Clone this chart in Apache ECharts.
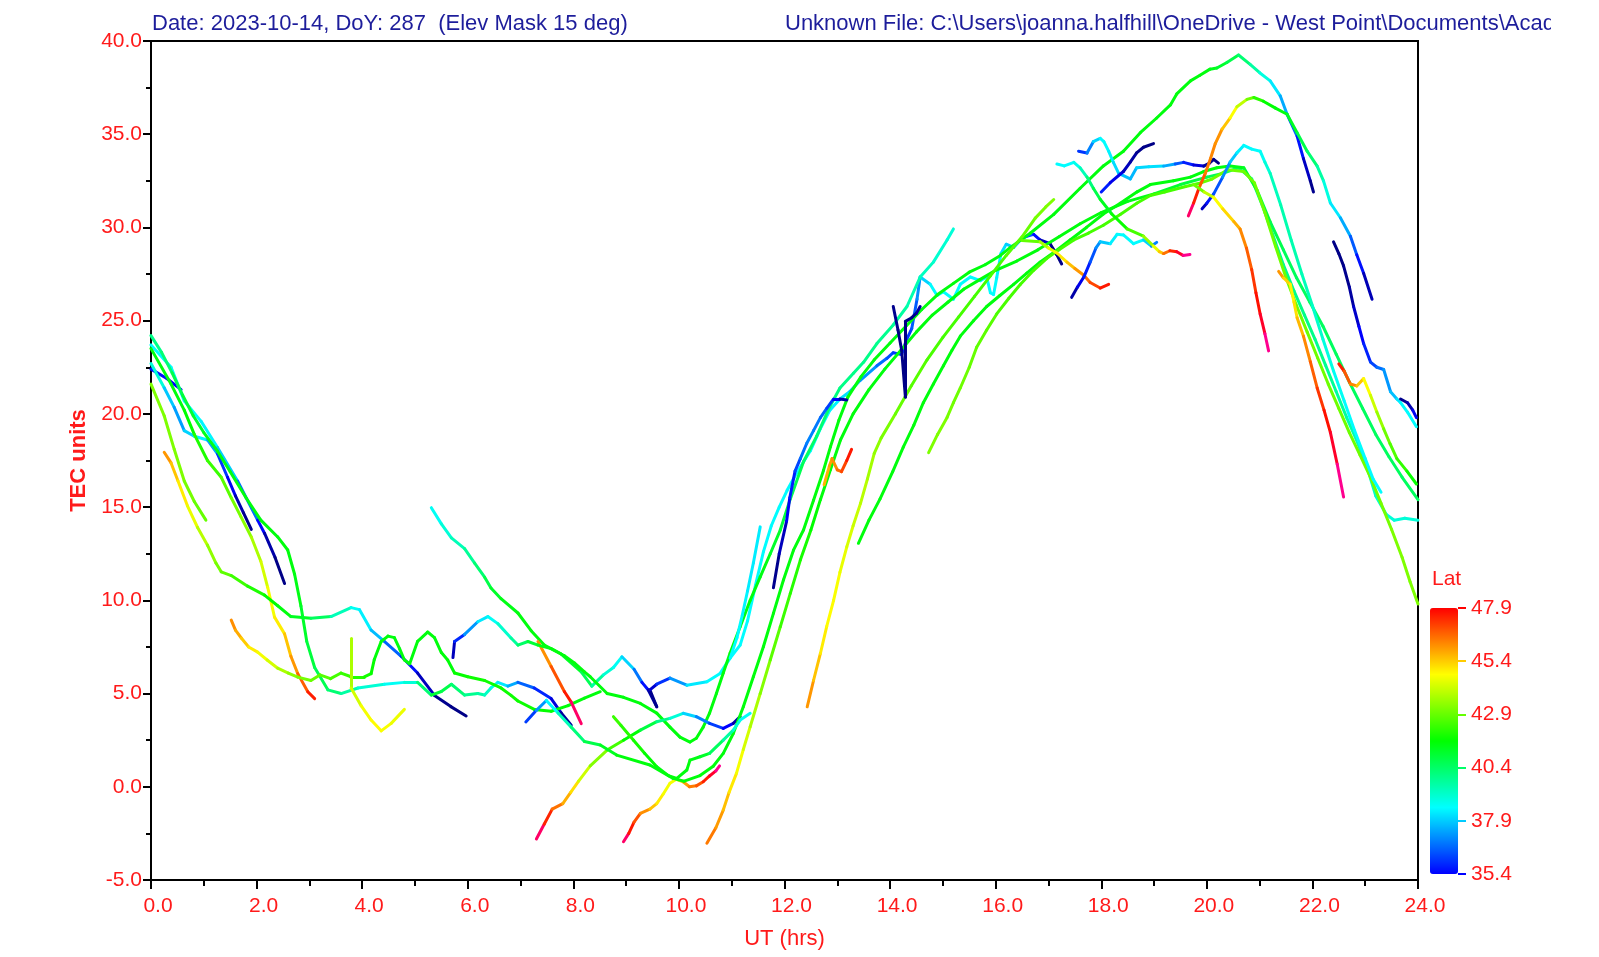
<!DOCTYPE html>
<html>
<head>
<meta charset="utf-8">
<script src="https://cdn.jsdelivr.net/npm/echarts@6/dist/echarts.min.js"></script>
<style>
    html, body { margin: 0; padding: 0; background: #fff; }
    #main { width: 1599px; height: 957px; }
</style>
</head>
<body>
<div id="main"></div>
<script>
// each pass: [UT hrs, TEC units, latitude of pierce point]
var p01 = [[0,22.4,35.6],[0.3,21.9,35.6],[0.57,21.3,35.2]];
var p02 = [[0,23.7,38.5],[0.38,22.5,38.5],[0.63,20.7,38.5],[0.95,19.6,38.5],[1.26,18.2,38.3],[1.64,16.4,37.5],[2.02,14.3,36.0],[2.15,13.6,35.0],[2.35,12.3,34.5],[2.53,10.9,34.5]];
var p03 = [[0,22.7,39.5],[0.25,21.4,38.5],[0.44,20.35,37.2],[0.63,19.1,37.5],[0.82,18.8,38.5],[1.07,18.6,38.3],[1.26,17.85,36.5],[1.45,16.6,35.6],[1.6,15.6,35.0],[1.75,14.7,34.6],[1.9,13.8,34.5]];
var p04 = [[0,23.5,41.5],[0.38,21.6,41.5],[0.63,20.2,41.5],[0.82,18.9,41.8],[1.07,17.5,42.2],[1.33,16.6,42.5],[1.52,15.5,43.0],[1.7,14.5,43.2],[1.9,13.4,43.5],[2.08,12.1,44.0],[2.21,10.7,44.5],[2.34,9.1,44.8],[2.53,8.2,45.2],[2.65,7.0,45.8],[2.78,6.07,46.3],[2.97,5.1,47.2],[3.1,4.73,47.9]];
var p05 = [[0,21.6,43.2],[0.25,19.9,43.2],[0.44,18.1,43.2],[0.63,16.4,43.2],[0.82,15.3,43.0],[1.04,14.3,42.8]];
var p06 = [[0.25,17.94,46.3],[0.38,17.37,45.8],[0.51,16.41,45.2],[0.69,15.07,44.8],[0.88,13.92,44.2],[1.07,12.96,43.6],[1.23,12.0,43.2],[1.33,11.53,43.0],[1.52,11.33,42.6],[1.83,10.76,42.2],[2.15,10.28,41.8],[2.4,9.71,41.5],[2.65,9.13,41.5],[3.03,9.04,41.0],[3.41,9.13,40.0],[3.79,9.61,38.8],[3.95,9.5,38.5],[4.17,8.4,38.2],[4.42,7.8,37.2],[4.74,7.0,36.0],[5.05,6.1,35.2],[5.37,4.9,34.6],[5.68,4.3,34.5],[5.97,3.8,34.5]];
var p07 = [[0,24.2,40.0],[0.2,23.3,40.0],[0.4,22.2,40.5],[0.6,21.0,41.0],[0.8,19.9,41.0],[1.0,19.0,41.2],[1.26,18.0,41.5],[1.5,16.9,41.5],[1.8,15.5,41.5],[2.08,14.3,41.5],[2.4,13.4,41.5],[2.59,12.7,41.5],[2.72,11.4,41.5],[2.84,9.7,41.3],[2.95,7.8,41.0],[3.1,6.4,40.8],[3.35,5.2,40.5],[3.6,5.0,40.0],[3.92,5.3,39.3],[4.42,5.5,38.8],[4.8,5.6,38.5],[5.05,5.6,39.5],[5.31,4.92,41.0],[5.5,5.11,41.0],[5.69,5.5,40.5],[5.94,4.92,40.0],[6.19,5.0,39.8],[6.32,4.92,39.5],[6.44,5.3,39.0],[6.57,5.6,38.5],[6.76,5.4,38.0],[6.95,5.6,37.0],[7.26,5.3,36.2],[7.58,4.73,35.5],[7.77,3.96,34.8],[7.96,3.3,34.5]];
var p08 = [[1.52,8.94,46.3],[1.6,8.4,46.0],[1.71,7.98,45.6],[1.85,7.5,45.2],[2.02,7.22,44.8],[2.2,6.8,44.5],[2.4,6.36,44.0],[2.6,6.1,43.5],[2.78,5.88,43.2],[3.03,5.7,43.0],[3.2,6.0,42.8],[3.4,5.8,42.6],[3.6,6.1,42.4],[3.79,5.9,42.2],[4.04,5.9,42.0],[4.17,6.07,41.8],[4.23,6.83,41.6],[4.36,7.79,41.5],[4.49,8.08,41.5],[4.61,8.0,41.5],[4.71,7.4,41.5],[4.8,6.8,41.5],[4.9,6.6,41.5],[5.05,7.8,41.5],[5.24,8.3,41.5],[5.37,8.0,41.5],[5.5,7.2,41.5],[5.62,6.8,41.5],[5.75,6.1,41.6],[6.0,5.9,41.8],[6.32,5.7,41.8],[6.63,5.3,41.8],[6.82,4.9,41.8],[6.95,4.6,41.8],[7.26,4.15,41.8],[7.58,4.05,41.6],[7.9,4.35,41.5],[8.21,4.75,41.5],[8.51,5.1,41.5]];
var p09 = [[3.79,7.95,43.5],[3.79,5.3,44.0],[3.98,4.35,44.5],[4.17,3.58,44.8],[4.36,3.0,44.8],[4.55,3.4,44.6],[4.8,4.15,44.5]];
var p10 = [[5.31,14.97,38.5],[5.5,14.1,38.8],[5.69,13.35,39.2],[5.94,12.77,39.6],[6.13,12.0,40.0],[6.32,11.24,40.5],[6.44,10.66,41.0],[6.63,10.09,41.3],[6.95,9.32,41.5],[7.2,8.37,41.5],[7.45,7.6,41.5],[7.77,7.12,41.3],[8.15,6.16,41.0],[8.35,5.4,40.2],[8.57,6.0,39.3],[8.76,6.4,38.8],[8.92,6.97,38.5],[9.15,6.3,37.5],[9.3,5.6,36.2],[9.42,5.19,35.0],[9.58,4.29,34.5],[9.45,5.2,34.6],[9.58,5.5,35.5],[9.83,5.83,36.5],[10.15,5.45,38.0],[10.53,5.63,38.5],[10.78,6.08,38.5],[10.97,6.9,38.5],[11.16,7.6,38.5],[11.3,8.9,38.5],[11.45,10.8,38.5],[11.6,12.6,38.5],[11.75,14.0,38.5],[11.9,15.0,38.5],[12.05,15.9,38.5],[12.23,16.83,38.5],[12.49,18.02,38.5],[12.68,19.21,38.5],[12.86,20.2,38.5],[13.05,20.8,38.3],[13.24,21.2,38.0],[13.43,21.79,37.5],[13.75,22.58,37.0],[13.94,22.98,36.5],[14.06,23.28,36.2],[14.22,23.18,36.0],[14.3,23.9,36.0],[14.41,24.57,36.2],[14.51,26.15,36.8],[14.57,27.34,37.5],[14.76,26.95,38.5],[14.89,26.35,38.5],[15.01,26.55,38.5],[15.2,26.15,38.5],[15.33,26.95,38.5],[15.52,27.34,38.5],[15.71,27.15,38.5],[15.83,27.34,38.5],[15.9,26.5,38.5],[15.96,26.4,38.5],[16.02,27.3,38.5],[16.1,28.6,38.3],[16.2,29.1,38.0],[16.34,28.93,37.8],[16.47,29.33,37.5],[16.59,29.53,37.0],[16.72,29.63,36.0],[16.84,29.33,35.2],[17.03,29.13,34.6],[17.16,28.53,34.5],[17.25,28.04,34.5]];
var p11 = [[7.33,7.79,45.8],[7.58,6.45,46.5],[7.83,5.11,47.3],[7.96,4.54,47.9],[8.15,3.39,48.9]];
var p12 = [[5.72,6.93,34.5],[5.75,7.79,35.3],[5.94,8.17,36.5],[6.19,8.85,38.0],[6.38,9.13,38.5],[6.57,8.75,38.8],[6.82,7.98,39.5],[6.95,7.6,40.0],[7.14,7.79,40.8],[7.33,7.6,41.2],[7.58,7.41,41.5],[7.83,7.03,41.5],[8.02,6.64,41.5],[8.21,6.16,41.5],[8.32,5.9,41.5],[8.64,5.0,41.5],[8.95,4.8,41.5],[9.27,4.47,41.5],[9.58,3.95,41.5],[9.83,3.2,41.5],[10.02,2.66,41.5],[10.21,2.4,41.5],[10.33,2.6,41.5],[10.46,3.2,41.5],[10.58,3.95,41.5],[10.71,5.0,41.5],[10.84,6.1,41.5],[10.97,7.17,41.5],[11.16,8.58,41.5],[11.35,10.0,41.5],[11.54,11.26,41.5],[11.73,12.5,41.3],[11.92,13.77,41.0],[12.11,15.44,40.8],[12.36,17.43,40.5],[12.61,18.81,40.3],[12.86,20.4,40.2],[13.05,21.39,40.0],[13.31,22.19,40.0],[13.5,22.78,40.0],[13.75,23.77,40.0],[14.06,24.77,39.8],[14.32,25.76,39.6],[14.57,27.34,39.4],[14.82,28.14,39.2],[15.08,29.33,39.0],[15.2,29.92,39.0]];
var p13 = [[7.3,-2.8,48.9],[7.45,-2.0,47.9],[7.6,-1.2,47.0],[7.8,-0.9,46.0],[7.95,-0.3,45.5],[8.1,0.3,44.8],[8.32,1.12,43.5],[8.64,1.97,43.0],[8.95,2.5,42.0],[9.27,3.04,41.2],[9.58,3.49,40.5],[9.83,3.67,39.5],[10.08,3.94,38.5],[10.33,3.76,37.5],[10.58,3.4,36.5],[10.84,3.13,35.8],[11.03,3.4,35.0],[11.16,3.76,34.5]];
var p14 = [[8.95,-2.95,48.9],[9.05,-2.5,47.9],[9.15,-1.9,47.3],[9.27,-1.43,46.5],[9.45,-1.2,45.8],[9.58,-0.9,45.2],[9.7,-0.4,44.8],[9.83,0.19,44.5],[9.95,0.4,44.8],[10.08,0.27,45.6],[10.2,0.0,46.3],[10.33,0.05,46.5],[10.46,0.27,47.2],[10.58,0.58,47.9],[10.7,0.85,48.3],[10.77,1.12,48.9]];
var p15 = [[7.1,3.48,35.8],[7.3,4.1,36.5],[7.49,4.63,38.0],[7.71,3.96,39.0],[7.96,3.2,39.8],[8.21,2.43,40.5],[8.51,2.24,41.0],[8.82,1.7,41.5],[9.45,1.17,41.5],[9.89,0.45,41.5],[10.1,0.3,41.5],[10.4,0.6,41.5],[10.65,1.1,41.5],[10.84,1.79,41.5],[11.03,2.86,41.5],[11.22,4.29,41.5],[11.41,5.9,41.5],[11.6,7.51,41.5],[11.79,9.3,41.5],[11.98,11.09,41.5],[12.17,12.69,41.5],[12.36,13.77,41.5],[12.55,15.37,41.5],[12.74,16.98,41.5],[12.87,18.23,41.5],[13.03,19.66,41.5],[13.2,20.9,41.5],[13.45,22.0,41.5],[13.7,22.9,41.5],[14.0,23.8,41.5],[14.3,24.7,41.5],[14.6,25.6,41.5],[14.9,26.4,41.5],[15.2,27.0,41.5],[15.5,27.6,41.5],[15.8,28.0,41.5],[16.09,28.5,41.5],[16.28,28.93,41.5],[16.66,29.7,41.5],[17.1,30.7,41.5],[17.6,32.1,41.5],[18.04,33.3,41.5],[18.42,34.09,41.5],[18.74,35.08,41.5],[19.05,35.87,41.5],[19.31,36.57,41.5],[19.43,37.16,41.5],[19.69,37.86,41.5],[19.87,38.16,41.5],[20.06,38.49,41.5],[20.19,38.55,41.2],[20.38,38.85,41.0],[20.6,39.25,40.5],[20.82,38.75,40.0],[21.0,38.3,39.3],[21.2,37.86,38.5],[21.39,37.06,38.0],[21.52,36.07,37.0],[21.71,34.9,36.0],[21.83,33.69,35.3],[21.96,32.5,34.6],[22.02,31.9,34.5]];
var p16 = [[8.76,3.76,42.5],[8.9,3.3,42.2],[9.14,2.5,42.0],[9.35,1.8,41.8],[9.58,1.08,41.5],[9.8,0.6,41.5],[9.96,0.45,41.5],[10.15,0.9,41.5],[10.21,1.43,41.5],[10.4,1.61,41.3],[10.58,1.79,41.0],[10.84,2.5,40.0],[11.03,3.04,39.3],[11.16,3.58,38.8],[11.35,3.94,38.5]];
var p17 = [[10.53,-3.03,46.6],[10.7,-2.2,46.2],[10.84,-1.25,45.8],[10.95,-0.3,45.3],[11.09,0.72,44.8],[11.22,2.0,44.5],[11.35,3.22,44.0],[11.54,5.0,43.5],[11.73,6.8,43.0],[11.92,8.58,42.5],[12.11,10.37,42.2],[12.3,12.16,42.0],[12.5,13.77,41.8],[12.68,15.4,41.5],[12.87,17.0,41.5],[13.06,18.6,41.5],[13.3,20.0,41.5],[13.6,21.3,41.5],[13.9,22.4,41.5],[14.2,23.4,41.5],[14.5,24.4,41.5],[14.8,25.3,41.5],[15.1,26.0,41.5],[15.4,26.7,41.5],[15.7,27.2,41.5],[16.0,27.7,41.5],[16.4,28.2,41.5],[16.8,28.8,41.5],[17.2,29.5,41.5],[17.6,30.2,41.5],[18.0,30.8,41.5],[18.5,31.4,41.5],[19.0,31.8,41.3],[19.5,32.3,41.0],[20.0,32.7,40.8],[20.3,32.9,40.5],[20.6,33.2,40.2],[20.85,32.6,40.0],[21.05,31.2,40.0],[21.25,29.6,40.0],[21.45,28.0,40.0],[21.65,26.6,40.0],[21.85,25.3,40.0],[22.05,24.0,40.0],[22.25,22.6,39.8],[22.45,21.2,39.8],[22.65,19.8,39.6],[22.85,18.5,39.5],[23.05,17.0,39.3],[23.2,15.6,39.3],[23.4,14.6,39.0],[23.55,14.3,39.0],[23.75,14.4,39.0],[24.0,14.3,39.0]];
var p18 = [[12.43,4.29,46.3],[12.55,5.7,45.8],[12.68,7.15,45.2],[12.8,8.6,44.8],[12.93,10.0,44.8],[13.05,11.5,44.6],[13.18,12.87,44.4],[13.3,14.0,44.2],[13.44,15.2,44.0],[13.57,16.5,43.8],[13.7,17.88,43.5],[13.83,18.7,43.3],[14.1,20.0,43.0],[14.4,21.5,42.8],[14.7,22.9,42.6],[15.0,24.1,42.5],[15.3,25.2,42.5],[15.6,26.3,42.5],[15.9,27.4,42.5],[16.2,28.5,42.6],[16.5,29.5,42.8],[16.75,30.5,43.0],[16.95,31.1,43.2],[17.1,31.5,43.2]];
var p19 = [[10.97,6.9,38.5],[11.1,8.0,38.5],[11.2,9.2,38.5],[11.3,10.5,38.3],[11.41,12.0,38.3],[11.54,13.94,38.3]];
var p20 = [[11.79,10.68,34.5],[11.9,12.5,34.6],[12.04,14.25,35.2],[12.1,15.5,35.5],[12.2,16.93,36.0],[12.3,17.6,36.5],[12.42,18.41,37.0],[12.55,19.1,37.0],[12.68,19.8,36.8],[12.8,20.3,36.5],[12.93,20.8,35.8],[13.05,20.8,35.0],[13.18,20.75,34.5]];
var p21 = [[14.06,25.76,34.6],[14.15,24.5,34.5],[14.22,23.4,34.5],[14.29,20.9,34.5],[14.29,24.96,34.5],[14.41,25.16,34.5],[14.5,25.4,34.6],[14.57,25.76,34.8]];
var p22 = [[12.75,16.2,45.6],[12.85,17.2,45.8],[12.9,17.6,46.0],[13.0,17.0,46.3],[13.08,16.9,46.8],[13.18,17.5,47.3],[13.27,18.1,47.9]];
var p23 = [[13.4,13.06,41.5],[13.6,14.3,41.5],[13.81,15.44,41.5],[14.05,16.9,41.5],[14.25,18.22,41.5],[14.45,19.4,41.5],[14.63,20.6,41.5],[14.82,21.6,41.5],[15.01,22.58,41.5],[15.17,23.4,41.5],[15.33,24.17,41.5],[15.58,25.0,41.5],[15.83,25.76,41.5],[16.08,26.35,41.5],[16.34,26.95,41.5],[16.59,27.55,41.5],[16.84,28.14,41.5],[17.12,28.7,41.5],[17.41,29.33,41.5],[17.72,30.0,41.5],[18.04,30.72,41.5],[18.36,31.3,41.5],[18.68,31.91,41.5],[18.93,32.3,41.5],[19.37,32.5,41.5],[19.69,32.7,41.5],[19.94,33.0,41.5],[20.19,33.2,41.5],[20.44,33.3,41.5],[20.7,33.2,41.3],[20.95,32.0,41.0],[21.2,30.3,40.8],[21.45,28.8,40.6],[21.7,27.3,40.5],[21.95,26.0,40.5],[22.2,24.7,40.5],[22.45,23.2,40.5],[22.7,21.7,40.5],[22.95,20.3,40.5],[23.2,18.9,40.5],[23.45,17.7,40.5],[23.7,16.6,40.5],[24.0,15.4,40.5]];
var p24 = [[14.73,17.92,43.2],[14.9,18.9,43.2],[15.08,19.81,43.2],[15.2,20.6,43.0],[15.33,21.39,43.0],[15.5,22.5,43.0],[15.64,23.57,42.8],[15.83,24.5,42.8],[16.02,25.36,42.6],[16.25,26.2,42.5],[16.47,26.95,42.5],[16.72,27.7,42.5],[16.97,28.34,42.5],[17.2,28.8,42.5],[17.48,29.33,42.5],[17.76,29.7,42.5],[18.04,30.12,42.5],[18.36,30.7,42.5],[18.68,31.31,42.5],[18.93,31.71,42.5],[19.2,31.9,42.5],[19.6,32.2,42.5],[19.9,32.4,42.8],[20.1,32.6,43.0],[20.4,33.1,43.0],[20.7,33.0,43.0],[20.9,32.4,43.0],[21.1,30.8,43.0],[21.3,29.0,43.0],[21.5,27.3,43.0],[21.7,25.8,43.0],[21.9,24.4,43.0],[22.1,23.0,43.0],[22.3,21.6,43.0],[22.5,20.3,43.0],[22.7,19.0,43.0],[22.9,17.8,43.0],[23.1,16.6,43.0],[23.3,15.2,43.0],[23.5,13.8,43.2],[23.7,12.3,43.2],[23.85,11.0,43.2],[24.0,9.8,43.2]];
var p25 = [[16.5,29.3,42.5],[16.84,29.23,43.2],[17.0,28.9,44.2],[17.16,28.63,44.8],[17.35,28.14,45.3],[17.5,27.8,45.8],[17.67,27.44,46.3],[17.79,27.05,46.8],[17.98,26.75,47.3],[18.14,26.95,47.9]];
var p26 = [[17.44,26.25,34.5],[17.55,26.8,35.0],[17.67,27.34,35.5],[17.79,28.14,36.0],[17.9,28.9,36.8],[17.98,29.23,37.5],[18.17,29.13,38.2],[18.3,29.63,38.5],[18.42,29.6,38.5],[18.61,29.13,38.5],[18.8,29.33,38.5],[18.95,29.0,37.5],[19.05,29.2,36.5]];
var p27 = [[17.16,33.4,38.5],[17.3,33.3,38.5],[17.48,33.49,38.5],[17.6,33.2,39.0],[17.73,32.7,39.8],[17.85,32.1,40.5],[17.98,31.51,41.0],[18.2,30.72,41.5],[18.49,29.92,42.0],[18.8,29.53,43.0],[18.99,29.0,44.0],[19.1,28.7,45.0],[19.18,28.6,46.0],[19.3,28.75,47.0],[19.43,28.7,47.9],[19.55,28.5,48.3],[19.68,28.55,48.9]];
var p28 = [[17.57,34.09,35.6],[17.73,33.99,36.5],[17.85,34.6,37.5],[17.98,34.78,38.5],[18.05,34.6,38.5],[18.14,34.09,38.5],[18.23,33.49,38.2],[18.33,32.9,38.0],[18.55,32.6,37.5],[18.67,33.2,37.8],[18.9,33.25,38.3],[19.18,33.29,38.0],[19.4,33.4,37.0],[19.56,33.49,36.0],[19.75,33.35,35.5],[19.94,33.29,34.8],[20.05,33.45,34.6],[20.13,33.65,34.5],[20.22,33.45,34.5]];
var p29 = [[18.0,31.9,36.0],[18.17,32.4,35.5],[18.42,33.0,35.0],[18.55,33.5,34.8],[18.67,34.0,34.6],[18.8,34.3,34.5],[18.99,34.5,34.5]];
var p30 = [[19.65,30.62,48.9],[19.75,31.31,47.9],[19.85,32.1,47.2],[19.97,32.9,46.5],[20.07,33.7,46.3],[20.16,34.5,46.2],[20.29,35.28,46.0],[20.44,35.87,45.0],[20.57,36.47,44.5],[20.76,36.87,43.5],[20.89,36.97,42.5],[21.07,36.77,41.8],[21.3,36.4,41.5],[21.52,36.07,41.5],[21.71,35.08,41.0],[21.9,34.09,40.5],[22.09,33.29,40.0],[22.21,32.5,39.3],[22.34,31.31,38.5],[22.53,30.52,38.0],[22.72,29.53,37.0],[22.84,28.53,36.0],[22.97,27.54,35.2],[23.13,26.15,34.5]];
var p31 = [[19.91,31.0,34.6],[20.0,31.3,35.3],[20.13,31.8,36.0],[20.3,32.7,36.8],[20.44,33.5,37.5],[20.57,34.0,38.2],[20.7,34.4,38.5],[20.85,34.2,38.5],[21.01,34.09,38.5],[21.1,33.5,38.8],[21.2,32.9,39.2],[21.4,31.2,39.5],[21.6,29.3,39.5],[21.8,27.5,39.5],[22.0,25.8,39.3],[22.2,24.0,39.0],[22.4,22.3,38.8],[22.6,20.7,38.5],[22.8,19.1,38.5],[23.0,17.6,38.5],[23.15,16.5,38.5],[23.3,15.8,38.5]];
var p32 = [[19.75,32.3,42.5],[19.95,31.9,43.5],[20.13,31.61,44.5],[20.3,31.0,45.0],[20.51,30.32,45.5],[20.63,29.92,46.0],[20.75,28.9,46.5],[20.85,27.74,47.0],[20.93,26.5,47.5],[21.01,25.36,47.9],[21.1,24.3,48.3],[21.17,23.38,48.9]];
var p33 = [[21.36,27.64,46.3],[21.45,27.3,45.8],[21.58,26.95,44.8],[21.65,26.0,45.0],[21.71,25.16,45.3],[21.83,24.17,46.0],[21.96,22.8,46.5],[22.09,21.39,47.0],[22.22,20.2,47.5],[22.34,19.01,47.9],[22.47,17.3,48.3],[22.59,15.54,48.9]];
var p34 = [[22.5,22.68,47.9],[22.6,22.3,47.2],[22.72,21.6,46.5],[22.84,21.5,46.0],[22.97,21.89,45.0],[23.1,21.0,44.5],[23.22,20.1,43.8],[23.35,19.2,43.2],[23.47,18.4,42.8],[23.6,17.6,42.5],[23.79,16.93,42.0],[23.97,16.24,41.5]];
var p35 = [[22.4,29.23,34.5],[22.5,28.6,34.5],[22.59,27.94,34.5],[22.7,26.8,34.6],[22.78,25.76,34.8],[22.88,24.7,35.2],[22.97,23.77,35.6],[23.1,22.78,36.0],[23.22,22.5,36.5],[23.35,22.38,37.0],[23.48,21.19,37.5],[23.6,20.8,38.0],[23.67,20.6,38.5],[23.8,20.1,38.5],[23.97,19.31,38.5]];
var p36 = [[23.67,20.8,34.5],[23.8,20.6,34.6],[23.9,20.2,35.0],[23.97,19.8,35.6]];

var passes = [p01, p02, p03, p04, p05, p06, p07, p08, p09, p10, p11, p12, p13, p14, p15, p16, p17, p18,
    p19, p20, p21, p22, p23, p24, p25, p26, p27, p28, p29, p30, p31, p32, p33, p34, p35, p36];

var latMin = 35.4;
var latMax = 47.9;
var rampColors = ['#0000ff', '#00ffff', '#00ff00', '#ffff00', '#ff0000'];

function hexRgb(h) {
    return [parseInt(h.substr(1, 2), 16), parseInt(h.substr(3, 2), 16), parseInt(h.substr(5, 2), 16)];
}
function mix(a, b, f) {
    var ca = hexRgb(a), cb = hexRgb(b);
    var c = ca.map(function (v, i) { return Math.round(v + (cb[i] - v) * f); });
    return 'rgb(' + c.join(',') + ')';
}
// jet-like ramp, darker navy below the scale, magenta above it
function latColor(lat) {
    var n = (lat - latMin) / (latMax - latMin);
    if (n < 0) return mix('#0000ff', '#00007a', Math.min(1, latMin - lat));
    if (n > 1) return mix('#ff0000', '#ff00cc', Math.min(1, lat - latMax));
    var seg = Math.min(3, Math.floor(n * 4));
    return mix(rampColors[seg], rampColors[seg + 1], n * 4 - seg);
}

var segments = [];
passes.forEach(function (pass) {
    for (var i = 0; i < pass.length - 1; i++) {
        var a = pass[i], b = pass[i + 1];
        segments.push({
            coords: [[a[0], a[1]], [b[0], b[1]]],
            lineStyle: { color: latColor((a[2] + b[2]) / 2) }
        });
    }
});

var red = '#ff1a1a';
var font = '"Liberation Sans", Arial, sans-serif';
var fmt1 = function (v) { return v.toFixed(1); };

var chart = echarts.init(document.getElementById('main'));
chart.setOption({
    animation: false,
    backgroundColor: '#fff',
    textStyle: { fontFamily: font },
    grid: [
        { left: 151, right: 181, top: 41, bottom: 77, show: true, borderColor: '#000', borderWidth: 2 },
        { left: 1430, top: 608, width: 28, height: 266, show: false }
    ],
    xAxis: [{
        type: 'value', min: 0, max: 24, interval: 2,
        name: 'UT (hrs)', nameLocation: 'middle', nameGap: 48,
        nameTextStyle: { color: red, fontSize: 22, fontFamily: font },
        axisLine: { onZero: false, lineStyle: { color: '#000', width: 2 } },
        axisTick: { length: 9, lineStyle: { color: '#000', width: 2 } },
        minorTick: { show: true, splitNumber: 2, length: 6, lineStyle: { color: '#000', width: 2 } },
        splitLine: { show: false },
        axisLabel: { color: red, fontSize: 21, fontFamily: font, margin: 16, padding: [0, 0, 0, 14], formatter: fmt1 }
    }, {
        type: 'value', gridIndex: 1, show: false, min: 0, max: 1
    }],
    yAxis: [{
        type: 'value', min: -5, max: 40, interval: 5,
        name: 'TEC units', nameLocation: 'middle', nameGap: 60,
        nameTextStyle: { color: red, fontSize: 22, fontWeight: 'bold', fontFamily: font },
        axisLine: { onZero: false, lineStyle: { color: '#000', width: 2 } },
        axisTick: { length: 8, lineStyle: { color: '#000', width: 2 } },
        minorTick: { show: true, splitNumber: 2, length: 5, lineStyle: { color: '#000', width: 2 } },
        splitLine: { show: false },
        axisLabel: { color: red, fontSize: 21, fontFamily: font, margin: 9, formatter: fmt1 }
    }, {
        // colour-bar scale, offset from latMin so ticks fall on the bar ends
        type: 'value', gridIndex: 1, position: 'right', min: 0, max: latMax - latMin, interval: 2.5,
        axisLine: { show: false, onZero: false },
        axisTick: {
            show: true, length: 8,
            lineStyle: {
                width: 2,
                color: new echarts.graphic.LinearGradient(0, 608, 0, 874, [
                    { offset: 0, color: '#ff0000' }, { offset: 0.25, color: '#ffff00' },
                    { offset: 0.5, color: '#00ff00' }, { offset: 0.75, color: '#00ffff' },
                    { offset: 1, color: '#0000ff' }
                ], true)
            }
        },
        splitLine: { show: false },
        axisLabel: { color: red, fontSize: 21, fontFamily: font, margin: 13,
            formatter: function (v) { return (v + latMin).toFixed(1); } }
    }],
    visualMap: {
        type: 'continuous', min: latMin, max: latMax, seriesIndex: 1,
        left: 1430, top: 608, itemWidth: 28, itemHeight: 266, padding: 0,
        calculable: false, hoverLink: false, text: null,
        inRange: { color: rampColors }
    },
    graphic: [
        { type: 'text', left: 152, top: 13, z: 50,
          style: { text: 'Date: 2023-10-14, DoY: 287  (Elev Mask 15 deg)', fill: '#1d1d9b', fontSize: 22, fontFamily: font } },
        { type: 'text', left: 785, top: 13, z: 50,
          style: { text: 'Unknown File: C:\\Users\\joanna.halfhill\\OneDrive - West Point\\Documents\\Academics', fill: '#1d1d9b', fontSize: 22, fontFamily: font } },
        { type: 'rect', left: 1551, top: 0, z: 60, shape: { width: 48, height: 39 }, style: { fill: '#fff' } },
        { type: 'text', left: 1432, top: 569, z: 50,
          style: { text: 'Lat', fill: red, fontSize: 21, fontFamily: font } }
    ],
    series: [{
        type: 'lines', coordinateSystem: 'cartesian2d', xAxisIndex: 0, yAxisIndex: 0,
        polyline: false, large: false, silent: true, z: 3,
        lineStyle: { width: 3, opacity: 1, curveness: 0, cap: 'round' },
        data: segments
    }, {
        type: 'scatter', xAxisIndex: 1, yAxisIndex: 1, data: [], silent: true
    }]
});
</script>
</body>
</html>
